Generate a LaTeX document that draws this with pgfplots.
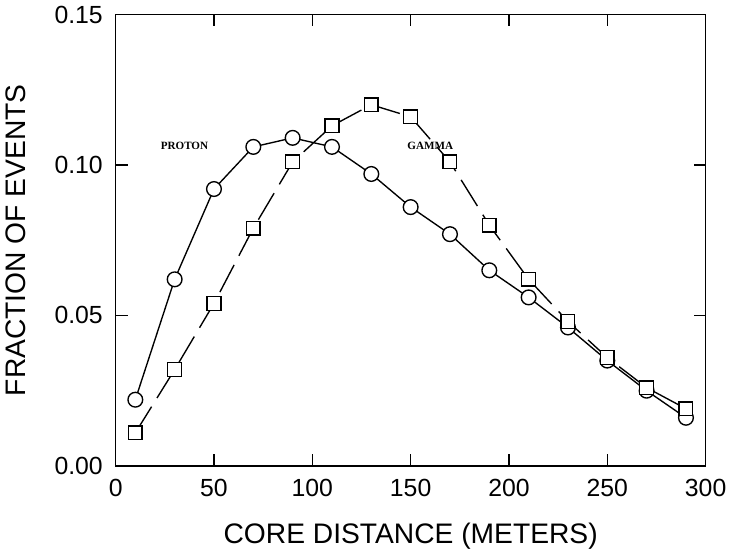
\documentclass[border=0pt]{standalone}
\usepackage{pgfplots}
\pgfplotsset{compat=1.18}
\usepackage{fontspec}
\setmainfont{Liberation Sans}
\newfontfamily\labfont{Liberation Serif}

\begin{document}
\begin{tikzpicture}
\begin{axis}[
    scale only axis,
    width=345pt,
    height=264pt,
    xmin=0, xmax=300,
    ymin=0, ymax=0.15,
    xtick={0,50,...,300},
    ytick={0,0.05,0.10,0.15},
    yticklabel style={/pgf/number format/fixed, /pgf/number format/fixed zerofill,
      /pgf/number format/precision=2, xshift=-4pt},
    /pgf/number format/assume math mode=true,
    tick align=inside,
    major tick length=7pt,
    tick style={line width=0.8pt, black},
    axis line style={line width=0.9pt},
    ticklabel style={font=\fontsize{14.5}{17}\selectfont},
    xticklabel style={yshift=-4pt},
    xlabel={CORE DISTANCE (METERS)},
    ylabel={FRACTION OF EVENTS},
    label style={font=\fontsize{16.5}{19}\selectfont},
    xlabel style={yshift=-9pt},
    ylabel style={yshift=10pt},
    clip=false,
]
\addplot[black, line width=0.8pt, mark=*, mark size=4.3pt,
  mark options={solid, fill=white, draw=black, line width=0.8pt}]
  coordinates {
    (10,0.022) (30,0.062) (50,0.092) (70,0.106) (90,0.109)
    (110,0.106) (130,0.097) (150,0.086) (170,0.077) (190,0.065)
    (210,0.056) (230,0.046) (250,0.035) (270,0.025) (290,0.016)
  };
\addplot[black, line width=0.8pt, dash pattern=on 18pt off 6pt,
  mark=square*, mark size=4pt,
  mark options={solid, fill=white, draw=black, line width=0.8pt}]
  coordinates {
    (10,0.011) (30,0.032) (50,0.054) (70,0.079) (90,0.101)
    (110,0.113) (130,0.120) (150,0.116) (170,0.101) (190,0.080)
    (210,0.062) (230,0.048) (250,0.036) (270,0.026) (290,0.019)
  };
\node[font=\labfont\bfseries\fontsize{6.5}{8}\selectfont] at (axis cs:35,0.1065) {PROTON};
\node[font=\labfont\bfseries\fontsize{6.5}{8}\selectfont] at (axis cs:160,0.1065) {GAMMA};
\end{axis}
\path (current axis.north) ++(0,6pt);
\end{tikzpicture}
\end{document}
